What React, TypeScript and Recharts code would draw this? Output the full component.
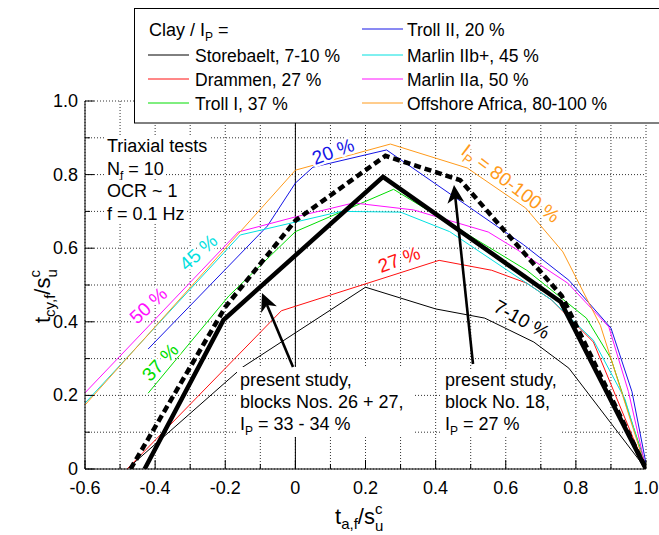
import React from 'react';
import { LineChart, Line, XAxis, YAxis, CartesianGrid, ReferenceLine } from 'recharts';

const FONT = '"Liberation Sans", Arial, Helvetica, sans-serif';

const xTicks = [-0.6, -0.5, -0.4, -0.3, -0.2, -0.1, 0, 0.1, 0.2, 0.3, 0.4, 0.5, 0.6, 0.7, 0.8, 0.9, 1.0];
const yTicks = [0, 0.1, 0.2, 0.3, 0.4, 0.5, 0.6, 0.7, 0.8, 0.9, 1.0];

const storebaelt = [
  { x: -0.48, y: 0 }, { x: -0.15, y: 0.277 }, { x: 0.2, y: 0.494 }, { x: 0.4, y: 0.435 },
  { x: 0.54, y: 0.41 }, { x: 0.68, y: 0.345 }, { x: 0.78, y: 0.274 }, { x: 1.0, y: 0 },
];
const drammen = [
  { x: -0.48, y: 0 }, { x: -0.04, y: 0.43 }, { x: 0.41, y: 0.567 }, { x: 0.56, y: 0.54 },
  { x: 0.66, y: 0.505 }, { x: 0.73, y: 0.46 }, { x: 0.85, y: 0.345 }, { x: 1.0, y: 0 },
];
const trollI = [
  { x: -0.42, y: 0.206 }, { x: -0.19, y: 0.47 }, { x: 0.0, y: 0.645 }, { x: 0.28, y: 0.76 },
  { x: 0.66, y: 0.54 }, { x: 0.83, y: 0.41 }, { x: 0.9, y: 0.3 }, { x: 1.0, y: 0.01 },
];
const trollII = [
  { x: -0.42, y: 0.326 }, { x: -0.08, y: 0.66 }, { x: 0.0, y: 0.777 }, { x: 0.05, y: 0.82 },
  { x: 0.26, y: 0.867 }, { x: 0.65, y: 0.61 }, { x: 0.78, y: 0.513 }, { x: 0.9, y: 0.383 },
  { x: 0.96, y: 0.21 }, { x: 1.0, y: 0.015 },
];
const marlinIIbPlus = [
  { x: -0.6, y: 0.179 }, { x: -0.157, y: 0.636 }, { x: 0.0, y: 0.671 }, { x: 0.13, y: 0.7 },
  { x: 0.3, y: 0.698 }, { x: 0.44, y: 0.645 }, { x: 0.73, y: 0.46 }, { x: 0.85, y: 0.35 },
  { x: 0.94, y: 0.19 }, { x: 1.0, y: 0 },
];
const marlinIIa = [
  { x: -0.6, y: 0.207 }, { x: -0.163, y: 0.644 }, { x: 0.0, y: 0.685 }, { x: 0.166, y: 0.723 },
  { x: 0.337, y: 0.704 }, { x: 0.55, y: 0.644 }, { x: 0.634, y: 0.595 }, { x: 0.777, y: 0.505 },
  { x: 0.894, y: 0.386 }, { x: 0.95, y: 0.21 }, { x: 1.0, y: 0 },
];
const offshoreAfrica = [
  { x: -0.6, y: 0.174 }, { x: 0.0, y: 0.812 }, { x: 0.271, y: 0.883 }, { x: 0.49, y: 0.818 },
  { x: 0.657, y: 0.709 }, { x: 0.763, y: 0.59 }, { x: 0.87, y: 0.39 }, { x: 1.0, y: 0 },
];
const blocks2627 = [
  { x: -0.43, y: 0 }, { x: -0.205, y: 0.405 }, { x: 0.25, y: 0.794 }, { x: 0.757, y: 0.454 }, { x: 1.0, y: 0 },
];
const block18 = [
  { x: -0.47, y: 0 }, { x: -0.2, y: 0.44 }, { x: 0.0, y: 0.675 }, { x: 0.257, y: 0.851 },
  { x: 0.47, y: 0.785 }, { x: 0.76, y: 0.47 }, { x: 1.0, y: 0 },
];

const C_BLACK = '#000000';
const C_RED = '#ff1010';
const C_GREEN = '#00dd00';
const C_BLUE = '#1414e6';
const C_CYAN = '#00e0e0';
const C_MAGENTA = '#ff10ff';
const C_ORANGE = '#ff9a1a';

const isMajor = (v: number) => Math.round(v * 10) % 2 === 0;
const fmt = (v: number) => (Math.abs(v) < 1e-9 ? '0' : v.toFixed(1));

const BottomTick = (p: any) => {
  const { x, y, payload } = p;
  const v = payload.value;
  const m = isMajor(v);
  return (
    <g>
      <line x1={x} y1={y} x2={x} y2={y - (m ? 9 : 5)} stroke="#000" strokeWidth={1} />
      {m && (
        <text x={x} y={y + 25} textAnchor="middle" fontSize={18} fontFamily={FONT} fill="#000">
          {fmt(v)}
        </text>
      )}
    </g>
  );
};
const TopTick = (p: any) => {
  const { x, y, payload } = p;
  const m = isMajor(payload.value);
  return <line x1={x} y1={y} x2={x} y2={y + (m ? 9 : 5)} stroke="#000" strokeWidth={1} />;
};
const LeftTick = (p: any) => {
  const { x, y, payload } = p;
  const v = payload.value;
  const m = isMajor(v);
  return (
    <g>
      <line x1={x} y1={y} x2={x + (m ? 9 : 5)} y2={y} stroke="#000" strokeWidth={1} />
      {m && (
        <text x={x - 7} y={y + 6} textAnchor="end" fontSize={18} fontFamily={FONT} fill="#000">
          {fmt(v)}
        </text>
      )}
    </g>
  );
};
const RightTick = (p: any) => {
  const { x, y, payload } = p;
  const m = isMajor(payload.value);
  return <line x1={x} y1={y} x2={x - (m ? 9 : 5)} y2={y} stroke="#000" strokeWidth={1} />;
};

const Arrow = ({ x1, y1, x2, y2 }: { x1: number; y1: number; x2: number; y2: number }) => {
  const dx = x2 - x1;
  const dy = y2 - y1;
  const L = Math.hypot(dx, dy);
  const ux = dx / L;
  const uy = dy / L;
  const px = -uy;
  const py = ux;
  const hl = 18;
  const hw = 8.5;
  const bx = x2 - ux * hl;
  const by = y2 - uy * hl;
  const nx = x2 - ux * hl * 0.72;
  const ny = y2 - uy * hl * 0.72;
  const pts = `${x2},${y2} ${bx + px * hw},${by + py * hw} ${nx},${ny} ${bx - px * hw},${by - py * hw}`;
  return (
    <g>
      <line x1={x1} y1={y1} x2={nx} y2={ny} stroke="#000" strokeWidth={2.6} />
      <polygon points={pts} fill="#000" />
    </g>
  );
};

const RotLabel = ({ cx, cy, angle, color, children }: any) => (
  <text
    x={cx}
    y={cy + 7}
    textAnchor="middle"
    fontSize={19}
    fontFamily={FONT}
    fill={color}
    stroke="#fff"
    strokeWidth={5}
    strokeLinejoin="round"
    paintOrder="stroke"
    transform={`rotate(${angle} ${cx} ${cy})`}
  >
    {children}
  </text>
);

const legendLeft = [
  { name: 'Storebaelt, 7-10 %', color: C_BLACK, base: 62 },
  { name: 'Drammen, 27 %', color: C_RED, base: 86 },
  { name: 'Troll I, 37 %', color: C_GREEN, base: 110 },
];
const legendRight = [
  { name: 'Troll II, 20 %', color: C_BLUE, base: 36 },
  { name: 'Marlin IIb+, 45 %', color: C_CYAN, base: 62 },
  { name: 'Marlin IIa, 50 %', color: C_MAGENTA, base: 86 },
  { name: 'Offshore Africa, 80-100 %', color: C_ORANGE, base: 110 },
];

const Overlay = () => (
  <svg
    width={659}
    height={535}
    style={{ position: 'absolute', left: 0, top: 0, pointerEvents: 'none' }}
    fontFamily={FONT}
  >
    {/* Legend */}
    <rect x={134.5} y={8.5} width={600} height={114.5} fill="#fff" stroke="#000" strokeWidth={1} />
    <text x={149} y={36} fontSize={18} fill="#000">
      Clay / I<tspan dy={5} fontSize={12}>P</tspan>
      <tspan dy={-5}> =</tspan>
    </text>
    {legendLeft.map((e) => (
      <g key={e.name}>
        <line x1={148} x2={189} y1={e.base - 7} y2={e.base - 7} stroke={e.color} strokeWidth={1} />
        <text x={195} y={e.base} fontSize={17.5} fill="#000">{e.name}</text>
      </g>
    ))}
    {legendRight.map((e) => (
      <g key={e.name}>
        <line x1={362} x2={403} y1={e.base - 7} y2={e.base - 7} stroke={e.color} strokeWidth={1} />
        <text x={407} y={e.base} fontSize={17.5} fill="#000">{e.name}</text>
      </g>
    ))}

    {/* Test info */}
    <rect x={105} y={136} width={104} height={21} fill="#fff" />
    <rect x={105} y={158} width={60} height={21} fill="#fff" />
    <rect x={105} y={181} width={74} height={21} fill="#fff" />
    <rect x={105} y={203} width={81} height={21} fill="#fff" />
    <text x={107} y={152} fontSize={18} fill="#000">Triaxial tests</text>
    <text x={107} y={174.5} fontSize={18} fill="#000">
      N<tspan dy={5} fontSize={12}>f</tspan>
      <tspan dy={-5}> = 10</tspan>
    </text>
    <text x={107} y={197} fontSize={18} fill="#000">OCR ~ 1</text>
    <text x={107} y={219.5} fontSize={18} fill="#000">f = 0.1 Hz</text>

    {/* Curve labels */}
    <RotLabel cx={333} cy={151} angle={-20} color={C_BLUE}>20 %</RotLabel>
    <RotLabel cx={198} cy={252} angle={-42} color={C_CYAN}>45 %</RotLabel>
    <RotLabel cx={148} cy={305} angle={-43} color={C_MAGENTA}>50 %</RotLabel>
    <RotLabel cx={160} cy={362} angle={-47} color={C_GREEN}>37 %</RotLabel>
    <RotLabel cx={399} cy={259} angle={-20} color={C_RED}>27 %</RotLabel>
    <RotLabel cx={522} cy={319} angle={29} color={C_BLACK}>7-10 %</RotLabel>
    <RotLabel cx={511} cy={183} angle={37} color={C_ORANGE}>
      I<tspan dy={5} fontSize={13}>P</tspan>
      <tspan dy={-5}> = 80-100 %</tspan>
    </RotLabel>

    {/* Present study boxes */}
    <rect x={237} y={367} width={178} height={70} fill="#fff" />
    <text x={240} y={386} fontSize={18} fill="#000">present study,</text>
    <text x={240} y={408} fontSize={18} fill="#000">blocks Nos. 26 + 27,</text>
    <text x={240} y={430} fontSize={18} fill="#000">
      I<tspan dy={5} fontSize={12}>P</tspan>
      <tspan dy={-5}> = 33 - 34 %</tspan>
    </text>
    <Arrow x1={293} y1={367} x2={262} y2={293} />

    <rect x={442} y={369} width={120} height={68} fill="#fff" />
    <text x={445} y={386} fontSize={18} fill="#000">present study,</text>
    <text x={445} y={408} fontSize={18} fill="#000">block No. 18,</text>
    <text x={445} y={430} fontSize={18} fill="#000">
      I<tspan dy={5} fontSize={12}>P</tspan>
      <tspan dy={-5}> = 27 %</tspan>
    </text>
    <Arrow x1={473} y1={364} x2={454} y2={185} />

    {/* Axis titles */}
    <text x={335} y={524} fontSize={22} fill="#000">
      t<tspan dy={5} fontSize={15}>a,f</tspan>
      <tspan dy={-5}>/s</tspan>
      <tspan dy={7} fontSize={15}>u</tspan>
      <tspan dx={-8.3} dy={-17} fontSize={15}>c</tspan>
    </text>
    <text x={50} y={323} fontSize={22} fill="#000" transform="rotate(-90 50 323)">
      t<tspan dy={5} fontSize={15}>cy,f</tspan>
      <tspan dy={-5}>/s</tspan>
      <tspan dy={7} fontSize={15}>u</tspan>
      <tspan dx={-8.3} dy={-17} fontSize={15}>c</tspan>
    </text>
  </svg>
);

const thin = (data: any[], color: string, key: string) => (
  <Line
    key={key}
    data={data}
    dataKey="y"
    type="linear"
    stroke={color}
    strokeWidth={1}
    dot={false}
    activeDot={false}
    isAnimationActive={false}
  />
);

export default function App() {
  return (
    <div style={{ position: 'absolute', left: 0, top: 0, width: 659, height: 535, background: '#fff' }}>
      <LineChart width={659} height={535} margin={{ top: 101, right: 13, bottom: 0, left: 0 }}>
        <CartesianGrid stroke="#333" strokeDasharray="1 2" strokeWidth={1} />
        <XAxis
          type="number"
          dataKey="x"
          domain={[-0.6, 1.0]}
          ticks={xTicks}
          interval={0}
          tickSize={0}
          tickMargin={0}
          tickLine={false}
          tick={(p: any) => <BottomTick {...p} />}
          height={66}
          axisLine={{ stroke: '#000', strokeWidth: 1 }}
          allowDataOverflow
        />
        <XAxis
          xAxisId="top"
          orientation="top"
          type="number"
          dataKey="x"
          domain={[-0.6, 1.0]}
          ticks={xTicks}
          interval={0}
          tickSize={0}
          tickMargin={0}
          tickLine={false}
          tick={(p: any) => <TopTick {...p} />}
          height={0}
          axisLine={{ stroke: '#000', strokeWidth: 1 }}
          allowDataOverflow
        />
        <YAxis
          type="number"
          domain={[0, 1.0]}
          ticks={yTicks}
          interval={0}
          tickSize={0}
          tickMargin={0}
          tickLine={false}
          tick={(p: any) => <LeftTick {...p} />}
          width={85}
          axisLine={{ stroke: '#000', strokeWidth: 1 }}
          allowDataOverflow
        />
        <YAxis
          yAxisId="right"
          orientation="right"
          type="number"
          domain={[0, 1.0]}
          ticks={yTicks}
          interval={0}
          tickSize={0}
          tickMargin={0}
          tickLine={false}
          tick={(p: any) => <RightTick {...p} />}
          width={0}
          axisLine={{ stroke: '#000', strokeWidth: 1 }}
          allowDataOverflow
        />
        <ReferenceLine x={0} stroke="#000" strokeWidth={1} />
        {thin(storebaelt, C_BLACK, 'storebaelt')}
        {thin(drammen, C_RED, 'drammen')}
        {thin(trollI, C_GREEN, 'trollI')}
        {thin(trollII, C_BLUE, 'trollII')}
        {thin(marlinIIbPlus, C_CYAN, 'marlinIIb')}
        {thin(marlinIIa, C_MAGENTA, 'marlinIIa')}
        {thin(offshoreAfrica, C_ORANGE, 'offshore')}
        <Line
          data={blocks2627}
          dataKey="y"
          type="linear"
          stroke="#000"
          strokeWidth={4.5}
          strokeLinejoin="miter"
          dot={false}
          activeDot={false}
          isAnimationActive={false}
        />
        <Line
          data={block18}
          dataKey="y"
          type="linear"
          stroke="#000"
          strokeWidth={4.5}
          strokeDasharray="7 4"
          dot={false}
          activeDot={false}
          isAnimationActive={false}
        />
      </LineChart>
      <Overlay />
    </div>
  );
}
